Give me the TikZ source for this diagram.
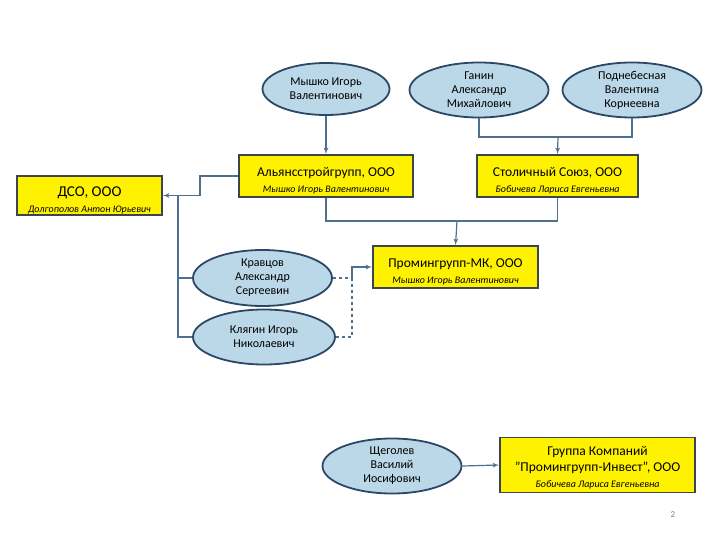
\documentclass[tikz,border=0pt]{standalone}
\usepackage{fontspec}
\setmainfont{Carlito}
\usepackage{tikz}
\usetikzlibrary{arrows}
\usetikzlibrary{shapes.geometric}
\usetikzlibrary{positioning}
\definecolor{mline}{RGB}{79, 111, 143}
\definecolor{medge}{RGB}{44, 72, 102}
\definecolor{mfill}{RGB}{186, 216, 231}
\definecolor{mbox}{RGB}{60, 70, 82}
\newcommand{\lift}[1][19pt]{\rule{0pt}{#1}}
\tikzset{person/.style = {ellipse, draw=medge, line width=1.8, fill=mfill, inner sep=0,
                          align=center, font=\fontsize{12}{14}\selectfont}}
\tikzset{firm/.style = {draw=mbox, line width=1.8, fill=yellow, inner sep=0,
                        align=center, font=\fontsize{13.5}{16}\selectfont}}
\tikzset{link/.style = {draw=mline, line width=1.2}}
\newcommand{\boss}[1]{{\fontsize{10}{11}\selectfont\itshape #1}}

\begin{document}
\begin{tikzpicture}[x=1pt, y=-1pt]
      \useasboundingbox (0, 0) rectangle (720, 540);

      % owners
      \node [person, minimum width=127, minimum height=52] (myshko) at (326, 89) {Мышко Игорь\\Валентинович};
      \node [person, minimum width=139, minimum height=55] (ganin) at (479, 90) {Ганин\\Александр\\Михайлович};
      \node [person, minimum width=139, minimum height=55] (podn) at (632, 90) {Поднебесная\\Валентина\\Корнеевна};

      % companies
      \node [firm, minimum width=174, minimum height=42] (alyans) at (326, 176) {\lift Альянсстройгрупп, ООО\\\boss{Мышко Игорь Валентинович}};
      \node [firm, minimum width=161, minimum height=42] (stolichny) at (557.5, 176) {\lift Столичный Союз, ООО\\\boss{Бобичева Лариса Евгеньевна}};
      \node [firm, minimum width=145, minimum height=39, font=\fontsize{15}{16}\selectfont] (dso) at (89.5, 195.5) {\lift ДСО, ООО\\\boss{Долгополов Антон Юрьевич}};
      \node [firm, minimum width=165, minimum height=42] (prom) at (455.5, 267) {\lift Промингрупп-МК, ООО\\\boss{Мышко Игорь Валентинович}};
      \node [firm, minimum width=195, minimum height=55] (gruppa) at (597.5, 465) {\lift[14pt]Группа Компаний\\"Промингрупп-Инвест", ООО\\\boss{Бобичева Лариса Евгеньевна}};

      % managers
      \node [person, minimum width=139, minimum height=56] (kravtsov) at (262.5, 278) {Кравцов\\Александр\\Сергеевин};
      \node [person, minimum width=142, minimum height=55] (klyagin) at (264, 337) {Клягин Игорь\\Николаевич};
      \node [person, minimum width=139, minimum height=55] (shchegolev) at (392, 466) {Щеголев\\Василий\\Иосифович};

      \coordinate (jtop) at (558, 137);
      \coordinate (jmid) at (457, 221);
      \coordinate (kink) at (200, 176);
      \coordinate (trunk) at (178, 195.5);
      \coordinate (dtop) at (352, 278);
      \coordinate (dbot) at (352, 337);

      \draw [link, -latex'] (myshko) -- (alyans);
      \draw [link] (ganin.south) |- (jtop) -| (podn.south);
      \draw [link, -latex'] (jtop) -- (stolichny.north);

      \draw [link, -latex'] (alyans.west) -- (kink) |- (dso.east);
      \draw [link] (trunk) |- (kravtsov.west);
      \draw [link] (trunk) |- (klyagin.west);

      \draw [link] (alyans.south) |- (jmid) -| (stolichny.south);
      \draw [link, -latex'] (jmid) -- (prom.north);

      \draw [link, dashed] (kravtsov.east) -- (dtop);
      \draw [link, dashed] (klyagin.east) -- (dbot) -- (dtop);
      \draw [link, -latex'] (dtop) |- (prom.west);

      \draw [link, -latex'] (shchegolev.east) -- (gruppa.west);

      \node [text=gray, font=\fontsize{9}{10}\selectfont] (page) at (673, 515) {2};
    \end{tikzpicture}
\end{document}
